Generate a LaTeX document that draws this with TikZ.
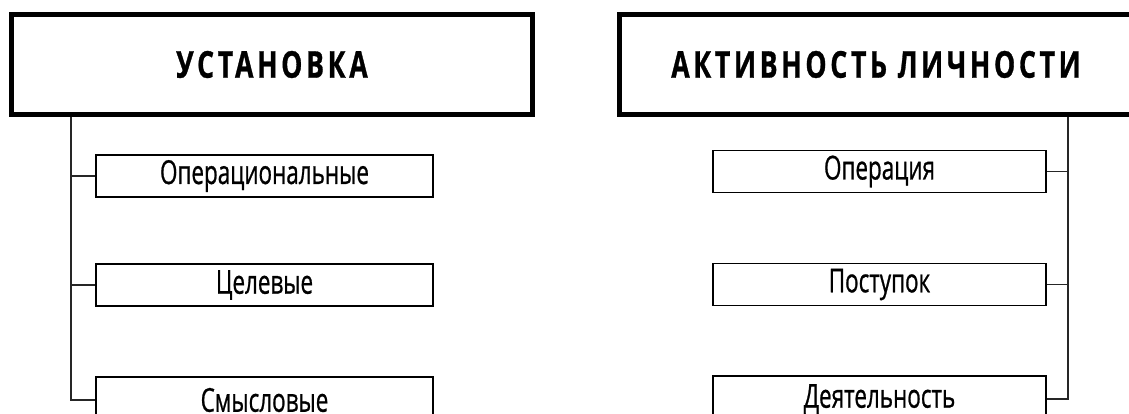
\documentclass[tikz,border=0pt]{standalone}
\usepackage{fontspec}
\usepackage{tikz}
\usetikzlibrary{positioning}
\newfontfamily\subfont[FakeStretch=0.68,FakeBold=0.7]{Open Sans}
\newfontfamily\headfont[FakeStretch=0.72,LetterSpace=10,FakeBold=0.8]{Open Sans}

\begin{document}
\begin{tikzpicture}[x=1pt, y=-1pt,
    headbox/.style={draw, line width=5pt, inner sep=0pt, minimum width=521pt, minimum height=100pt, font=\headfont\bfseries\fontsize{37}{37}\selectfont},
    subbox/.style={draw, line width=1.7pt, inner sep=0pt, minimum width=337pt, minimum height=42pt, font=\subfont\fontsize{33}{33}\selectfont},
    lastbox/.style={subbox, minimum height=46pt},
    link/.style={line width=1.2pt, black!85}]
    \clip (0,0) rectangle (1129,414);

    % Left column: attitudes
    \node[headbox] (ust) at (272,64.5) {УСТАНОВКА};
    \node[subbox] (oper) at (264.5,176) {Операциональные};
    \node[subbox] (cel) at (264.5,285) {Целевые};
    \node[lastbox] (smysl) at (264.5,400) {Смысловые};
    \coordinate (L_TRUNK) at (71,117);

    % Right column: activity
    \node[headbox, minimum width=513pt] (akt) at (876,64.5) {АКТИВНОСТЬ ЛИЧНОСТИ};
    \node[subbox, minimum width=333pt] (opr) at (879.5,171.5) {Операция};
    \node[subbox, minimum width=333pt] (post) at (879.5,284.5) {Поступок};
    \node[lastbox, minimum width=333pt] (deyat) at (879.5,399) {Деятельность};
    \coordinate (R_TRUNK) at (1068,117);

    % Connectors
    \draw[link] (L_TRUNK) |- (oper.west);
    \draw[link] (L_TRUNK) |- (cel.west);
    \draw[link] (L_TRUNK) |- (smysl.west);
    \draw[link] (R_TRUNK) |- (opr.east);
    \draw[link] (R_TRUNK) |- (post.east);
    \draw[link] (R_TRUNK) |- (deyat.east);

\end{tikzpicture}
\end{document}
